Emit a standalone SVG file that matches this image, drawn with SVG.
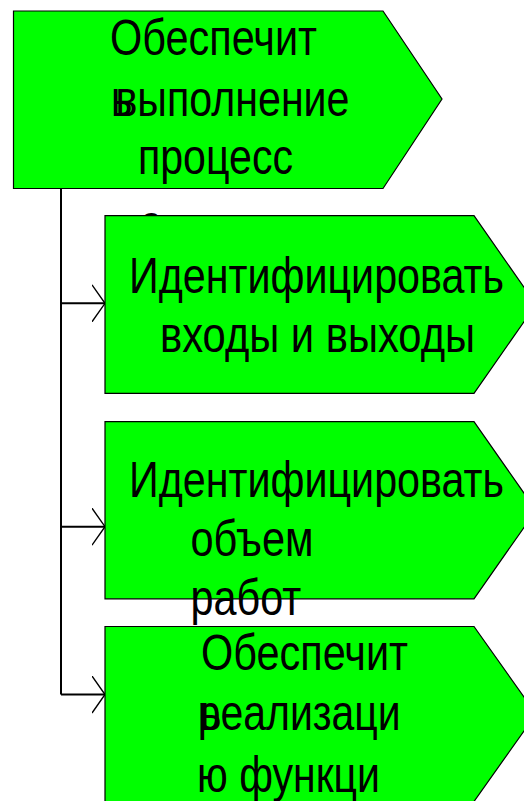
<svg xmlns="http://www.w3.org/2000/svg" width="524" height="801" viewBox="0 0 524 801">
  <style>
    .step { fill: #00FF00; stroke: #000000; stroke-width: 1.2; stroke-linejoin: miter; }
    .label { font-family: "Liberation Sans Narrow", "Arial Narrow", "Liberation Sans", Arial, sans-serif; font-size: 50px; fill: #000000; }
    .trunk { fill: none; stroke: #000000; stroke-width: 2; }
    .head { fill: none; stroke: #000000; stroke-width: 1.4; }
  </style>
  <defs>
    <marker id="openArrow" viewBox="0 0 14 38" refX="13.5" refY="19" markerWidth="14" markerHeight="38" markerUnits="userSpaceOnUse" orient="auto">
      <path d="M0.5,0.5 L13.5,19 L0.5,37.5" class="head"/>
    </marker>
  </defs>

  <rect x="0" y="0" width="524" height="801" fill="#ffffff"/>

  <!-- Parent step -->
  <g id="node-ensure-process">
    <polygon class="step" points="13.5,11 383,11 442,99 383,188.5 13.5,188.5"/>
    <text class="label" x="110" y="54.5" textLength="207" lengthAdjust="spacingAndGlyphs">Обеспечит</text>
    <text class="label" x="111" y="116" textLength="21.4" lengthAdjust="spacingAndGlyphs">ь</text>
    <text class="label" x="115.5" y="116" textLength="234" lengthAdjust="spacingAndGlyphs">выполнение</text>
    <text class="label" x="138" y="173.5" textLength="155" lengthAdjust="spacingAndGlyphs">процесс</text>
    <text class="label" x="140" y="240" textLength="22.8" lengthAdjust="spacingAndGlyphs">а</text>
  </g>

  <!-- Connectors from the parent step to each sub-step -->
  <g id="connectors">
    <path class="trunk" d="M61,188.5 L61,694.5"/>
    <path class="trunk" d="M61,303.3 L105,303.3" marker-end="url(#openArrow)"/>
    <path class="trunk" d="M61,526.7 L105,526.7" marker-end="url(#openArrow)"/>
    <path class="trunk" d="M61,694.5 L105,694.5" marker-end="url(#openArrow)"/>
  </g>

  <!-- Sub-step 1 -->
  <g id="node-inputs-outputs">
    <polygon class="step" points="105,215.7 474,215.7 536,304.5 474,393.3 105,393.3"/>
    <text class="label" x="129" y="293" textLength="375" lengthAdjust="spacingAndGlyphs">Идентифицировать</text>
    <text class="label" x="160" y="352" textLength="315" lengthAdjust="spacingAndGlyphs">входы и выходы</text>
  </g>

  <!-- Sub-step 2 -->
  <g id="node-scope">
    <polygon class="step" points="105,421.7 474,421.7 536,510.3 474,598.8 105,598.8"/>
    <text class="label" x="129" y="497" textLength="375" lengthAdjust="spacingAndGlyphs">Идентифицировать</text>
    <text class="label" x="190.5" y="556" textLength="123" lengthAdjust="spacingAndGlyphs">объем</text>
    <text class="label" x="190.5" y="615" textLength="110.7" lengthAdjust="spacingAndGlyphs">работ</text>
  </g>

  <!-- Sub-step 3 -->
  <g id="node-functions">
    <polygon class="step" points="105,626.5 474,626.5 536,714 474,801.5 105,801.5"/>
    <text class="label" x="201" y="670" textLength="207" lengthAdjust="spacingAndGlyphs">Обеспечит</text>
    <text class="label" x="200" y="730" textLength="21.4" lengthAdjust="spacingAndGlyphs">ь</text>
    <text class="label" x="197.7" y="730" textLength="203" lengthAdjust="spacingAndGlyphs">реализаци</text>
    <text class="label" x="197" y="791.5" textLength="183" lengthAdjust="spacingAndGlyphs">ю функци</text>
  </g>
</svg>
